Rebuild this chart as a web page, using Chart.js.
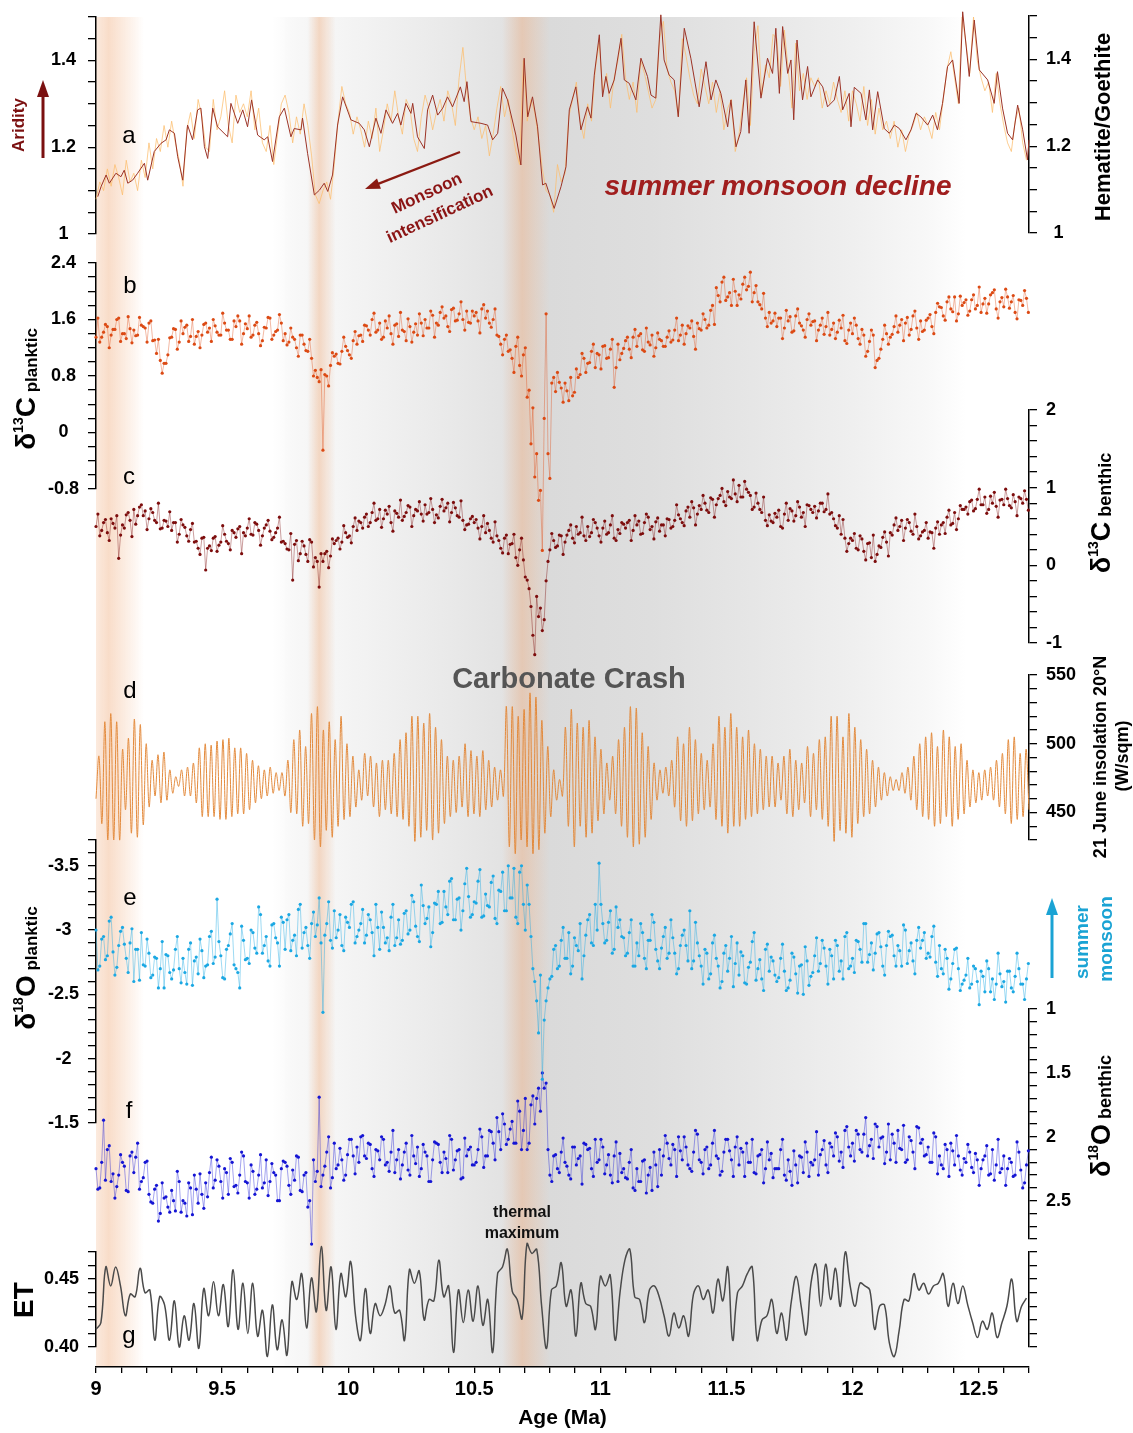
<!DOCTYPE html>
<html>
<head>
<meta charset="utf-8">
<title>Monsoon, carbon and oxygen isotope records 9–12.7 Ma</title>
<script src="https://cdn.jsdelivr.net/npm/chart.js@4"></script>
<style>
  html, body { margin: 0; padding: 0; background: #fff; }
  #wrap { position: relative; width: 1133px; height: 1433px; }
</style>
</head>
<body>
<div id="wrap"><canvas id="chart" width="1133" height="1433"></canvas></div>
<script>
const FONT = "'Liberation Sans', Arial, Helvetica, sans-serif";
Chart.defaults.font.family = FONT;
Chart.defaults.color = '#000';

// ---------- data ----------
// a: hematite/goethite, smoothed line [age Ma, ratio]
const hgSmooth = [
  [9.007,1.086],[9.020,1.109],[9.040,1.136],[9.053,1.117],[9.079,1.140],[9.099,1.132],[9.112,1.147],[9.126,1.117],
  [9.145,1.124],[9.165,1.140],[9.192,1.163],[9.205,1.124],[9.231,1.190],[9.258,1.209],[9.278,1.217],[9.291,1.240],
  [9.311,1.232],[9.324,1.178],[9.344,1.124],[9.363,1.251],[9.383,1.217],[9.403,1.286],[9.416,1.290],[9.430,1.201],
  [9.443,1.174],[9.463,1.290],[9.482,1.247],[9.522,1.224],[9.535,1.301],[9.562,1.255],[9.582,1.286],[9.601,1.247],
  [9.617,1.309],[9.641,1.228],[9.667,1.217],[9.681,1.224],[9.700,1.167],[9.727,1.270],[9.747,1.290],[9.773,1.224],
  [9.786,1.243],[9.813,1.240],[9.819,1.267],[9.839,1.186],[9.866,1.090],[9.886,1.101],[9.905,1.117],[9.919,1.098],
  [9.938,1.136],[9.958,1.251],[9.978,1.316],[10.011,1.263],[10.044,1.255],[10.064,1.240],[10.084,1.201],[10.110,1.267],
  [10.130,1.232],[10.150,1.286],[10.176,1.255],[10.196,1.278],[10.209,1.251],[10.229,1.301],[10.249,1.278],[10.256,1.301],
  [10.275,1.224],[10.302,1.197],[10.315,1.286],[10.335,1.320],[10.355,1.274],[10.375,1.290],[10.394,1.316],[10.414,1.293],
  [10.445,1.339],[10.460,1.305],[10.471,1.351],[10.487,1.259],[10.527,1.255],[10.553,1.251],[10.573,1.217],[10.593,1.232],
  [10.612,1.336],[10.632,1.309],[10.665,1.228],[10.685,1.159],[10.698,1.405],[10.712,1.270],[10.731,1.316],[10.751,1.247],
  [10.771,1.113],[10.784,1.117],[10.817,1.059],[10.844,1.109],[10.864,1.155],[10.877,1.286],[10.903,1.339],[10.923,1.240],
  [10.949,1.293],[10.963,1.267],[10.976,1.366],[10.996,1.459],[11.009,1.316],[11.022,1.363],[11.035,1.324],[11.055,1.355],
  [11.082,1.451],[11.095,1.355],[11.115,1.347],[11.141,1.309],[11.161,1.405],[11.187,1.363],[11.201,1.320],[11.220,1.313],
  [11.240,1.505],[11.253,1.401],[11.273,1.366],[11.293,1.355],[11.309,1.270],[11.333,1.474],[11.359,1.405],[11.392,1.293],
  [11.419,1.397],[11.439,1.309],[11.458,1.355],[11.478,1.324],[11.505,1.247],[11.518,1.309],[11.538,1.201],[11.557,1.236],
  [11.577,1.355],[11.590,1.232],[11.610,1.489],[11.637,1.313],[11.663,1.405],[11.683,1.370],[11.696,1.474],[11.710,1.324],
  [11.723,1.478],[11.743,1.370],[11.756,1.401],[11.767,1.263],[11.780,1.447],[11.802,1.309],[11.822,1.386],[11.835,1.316],
  [11.862,1.355],[11.882,1.339],[11.901,1.293],[11.928,1.309],[11.948,1.363],[11.961,1.286],[11.987,1.324],[11.994,1.247],
  [12.007,1.338],[12.034,1.324],[12.053,1.263],[12.067,1.332],[12.080,1.240],[12.100,1.328],[12.126,1.243],[12.146,1.232],
  [12.166,1.251],[12.186,1.243],[12.212,1.217],[12.232,1.240],[12.252,1.278],[12.271,1.270],[12.298,1.251],[12.318,1.274],
  [12.337,1.240],[12.357,1.301],[12.377,1.386],[12.397,1.401],[12.423,1.301],[12.437,1.512],[12.463,1.363],[12.483,1.493],
  [12.503,1.378],[12.536,1.355],[12.562,1.301],[12.575,1.374],[12.595,1.290],[12.615,1.232],[12.635,1.217],[12.655,1.297],
  [12.675,1.240],[12.694,1.171],[12.700,1.217]
];

// the following series are sampled every 0.015 Ma from 9.0 Ma;
// the "...Mid" arrays hold the samples that fall half-way between them
const GRID_START = 9.0, GRID_STEP = 0.015;

const hgRaw = [
  1.08,1.12,1.10,1.15,1.11,1.16,1.13,1.09,1.17,1.12, 1.14,1.10,1.17,1.13,1.21,1.15,1.22,1.19,1.25,1.20,
  1.26,1.21,1.17,1.11,1.24,1.28,1.22,1.31,1.27,1.20, 1.19,1.31,1.24,1.27,1.33,1.25,1.21,1.32,1.28,1.30,
  1.27,1.33,1.24,1.29,1.21,1.19,1.25,1.16,1.23,1.30, 1.32,1.28,1.21,1.27,1.23,1.30,1.25,1.18,1.09,1.07,
  1.10,1.12,1.08,1.16,1.26,1.34,1.30,1.28,1.23,1.27, 1.24,1.20,1.26,1.22,1.29,1.19,1.24,1.30,1.26,1.33,
  1.27,1.23,1.31,1.29,1.22,1.19,1.27,1.32,1.29,1.24, 1.28,1.31,1.26,1.33,1.30,1.25,1.36,1.43,1.33,1.27,
  1.24,1.27,1.22,1.25,1.18,1.23,1.29,1.34,1.27,1.31, 1.24,1.19,1.16,1.40,1.26,1.31,1.28,1.22,1.15,1.10,
  1.09,1.05,1.16,1.12,1.14,1.27,1.31,1.35,1.26,1.22, 1.30,1.26,1.38,1.44,1.33,1.37,1.29,1.36,1.40,1.46,
  1.36,1.31,1.35,1.28,1.40,1.37,1.33,1.29,1.31,1.45, 1.49,1.38,1.35,1.33,1.27,1.45,1.41,1.36,1.32,1.30,
  1.38,1.34,1.30,1.35,1.28,1.33,1.24,1.29,1.31,1.19, 1.23,1.30,1.36,1.25,1.42,1.48,1.32,1.39,1.36,1.46,
  1.45,1.34,1.47,1.38,1.29,1.44,1.33,1.37,1.31,1.36, 1.34,1.36,1.29,1.33,1.30,1.35,1.31,1.28,1.33,1.26,
  1.33,1.30,1.26,1.34,1.25,1.31,1.23,1.29,1.24,1.26, 1.22,1.26,1.20,1.24,1.19,1.23,1.25,1.28,1.24,1.27,
  1.25,1.22,1.28,1.24,1.31,1.38,1.42,1.36,1.30,1.50, 1.44,1.37,1.50,1.40,1.36,1.33,1.35,1.28,1.37,1.30,
  1.25,1.21,1.19,1.26,1.29,1.21,1.17
];

const d13cPlanktic = [
  1.35,1.28,1.42,1.50,1.38,1.46,1.62,1.40,1.33,1.47, 1.45,1.38,1.52,1.48,1.55,1.30,1.12,1.02,0.98,1.10,
  1.35,1.46,1.28,1.40,1.52,1.36,1.25,1.43,1.38,1.55, 1.48,1.60,1.42,1.38,1.55,1.45,1.32,1.50,1.58,1.40,
  1.47,1.35,1.52,1.40,1.30,1.48,1.62,1.38,1.45,1.55, 1.40,1.28,1.35,1.20,1.38,1.25,1.15,1.05,0.88,0.72,
  -0.25,0.80,0.95,1.08,0.98,1.15,1.22,1.10,1.30,1.25, 1.38,1.52,1.45,1.60,1.42,1.55,1.35,1.48,1.40,1.52,
  1.36,1.45,1.30,1.50,1.42,1.38,1.55,1.60,1.48,1.66, 1.55,1.70,1.62,1.50,1.74,1.58,1.68,1.60,1.72,1.55,
  1.65,1.58,1.75,1.62,1.55,1.60,1.38,1.25,1.32,1.15, 1.05,1.22,0.95,1.10,0.50,-0.16,-0.63,-0.96,-1.67,1.68,
  -0.65,0.78,0.85,0.63,0.70,0.45,0.52,0.90,0.82,1.05, 0.98,1.15,0.92,1.10,1.22,1.05,1.18,0.64,1.25,1.12,
  1.30,1.18,1.35,1.22,1.40,1.15,1.28,1.38,1.20,1.32, 1.22,1.35,1.28,1.45,1.30,1.52,1.40,1.48,1.36,1.55,
  1.45,1.60,1.52,1.80,2.05,1.85,2.20,1.92,1.80,2.00, 1.95,2.10,2.02,2.27,1.98,1.85,1.75,1.62,1.70,1.58,
  1.50,1.62,1.48,1.58,1.42,1.65,1.55,1.45,1.60,1.52, 1.58,1.45,1.62,1.50,1.38,1.55,1.42,1.48,1.30,1.45,
  1.40,1.52,1.25,1.38,1.15,1.45,0.92,1.05,1.32,1.40, 1.35,1.50,1.42,1.60,1.55,1.38,1.65,1.48,1.58,1.45,
  1.62,1.50,1.70,1.78,1.65,1.85,1.75,1.92,1.68,1.80, 1.88,1.72,1.95,1.80,1.70,1.90,1.82,1.98,1.75,1.85,
  1.78,1.92,1.85,1.70,1.88,1.80,1.90
];
const d13cPlankticMid = [
  1.62,1.35,1.53,1.20,1.46,1.60,1.29,1.40,1.64,1.27, 1.37,1.63,1.50,1.28,1.58,1.31,1.32,0.84,0.98,1.34,
  1.47,1.18,1.58,1.49,1.29,1.60,1.36,1.20,1.53,1.42, 1.29,1.51,1.38,1.69,1.45,1.32,1.58,1.65,1.25,1.54,
  1.65,1.38,1.56,1.23,1.49,1.63,1.32,1.43,1.67,1.30, 1.24,1.48,1.32,1.08,1.38,1.16,1.32,0.80,0.78,0.89,
  0.82,0.66,1.13,1.11,0.97,1.35,1.16,1.05,1.43,1.37, 1.29,1.51,1.38,1.69,1.45,1.32,1.58,1.65,1.25,1.54,
  1.70,1.43,1.61,1.28,1.54,1.68,1.37,1.48,1.72,1.35, 1.52,1.78,1.65,1.43,1.76,1.59,1.85,1.45,1.56,1.72,
  1.70,1.41,1.81,1.72,1.49,1.75,1.36,1.10,1.38,1.17, 0.85,1.35,0.80,1.20,0.60,0.35,-0.30,-0.82,0.20,-0.30,
  0.70,0.58,0.71,0.43,0.59,0.78,0.57,0.78,1.12,0.85, 0.99,1.25,1.12,0.90,1.23,1.06,1.32,0.92,1.03,1.19,
  1.35,1.06,1.46,1.37,1.17,1.48,1.24,1.08,1.41,1.30, 1.22,1.44,1.31,1.62,1.38,1.25,1.51,1.58,1.18,1.47,
  1.68,1.48,1.73,1.53,1.94,2.13,1.87,1.98,2.17,1.80, 1.89,2.20,2.07,1.85,2.08,1.81,1.97,1.50,1.55,1.69,
  1.62,1.33,1.73,1.64,1.44,1.75,1.51,1.35,1.68,1.57, 1.30,1.52,1.39,1.70,1.46,1.33,1.59,1.66,1.26,1.55,
  1.62,1.33,1.46,1.08,1.29,1.38,1.02,1.18,1.52,1.25, 1.39,1.65,1.52,1.30,1.63,1.46,1.72,1.32,1.43,1.59,
  1.67,1.40,1.83,1.77,1.59,1.92,1.71,1.58,1.93,1.84, 1.66,1.88,1.75,2.06,1.82,1.69,1.95,2.02,1.62,1.91,
  2.03,1.76,1.94,1.61,1.87,2.01,1.70
];

const d13cBenthic = [
  0.50,0.38,0.55,0.42,0.60,0.48,0.09,0.52,0.65,0.58, 0.72,0.64,0.78,0.70,0.60,0.68,0.55,0.47,0.58,0.50,
  0.45,0.55,0.40,0.52,0.38,0.46,0.30,0.22,0.35,-0.06, 0.25,0.35,0.18,0.30,0.40,0.28,0.45,0.36,0.50,0.42,
  0.48,0.40,0.55,0.45,0.38,0.52,0.44,0.36,0.48,0.30, 0.28,0.20,-0.19,0.32,0.15,0.25,0.05,0.30,0.10,-0.28,
  0.05,0.18,0.12,0.28,0.35,0.30,0.42,0.38,0.50,0.45, 0.55,0.62,0.50,0.68,0.58,0.72,0.60,0.66,0.55,0.70,
  0.62,0.58,0.68,0.75,0.64,0.70,0.66,0.78,0.68,0.72, 0.65,0.76,0.70,0.80,0.68,0.74,0.62,0.58,0.52,0.60,
  0.55,0.48,0.50,0.42,0.45,0.30,0.38,0.22,0.35,0.15, 0.28,0.10,0.20,0.07,-0.19,-0.53,-1.15,-0.66,-0.84,-0.20,
  0.20,0.32,0.25,0.38,0.30,0.45,0.35,0.50,0.42,0.38, 0.50,0.42,0.55,0.38,0.48,0.40,0.52,0.35,0.46,0.55,
  0.48,0.58,0.45,0.52,0.40,0.55,0.62,0.50,0.56,0.44, 0.52,0.60,0.48,0.58,0.65,0.55,0.70,0.62,0.74,0.66,
  0.72,0.80,0.68,0.85,0.78,0.90,0.82,0.95,0.86,0.92, 1.03,0.88,0.98,0.90,0.75,0.80,0.68,0.58,0.65,0.55,
  0.62,0.50,0.66,0.58,0.70,0.64,0.75,0.68,0.78,0.72, 0.76,0.70,0.80,0.72,0.66,0.60,0.48,0.40,0.35,0.28,
  0.32,0.22,0.38,0.18,0.28,0.10,0.05,0.25,0.36,0.30, 0.42,0.52,0.45,0.58,0.48,0.55,0.40,0.50,0.38,0.45,
  0.35,0.42,0.48,0.40,0.55,0.62,0.52,0.68,0.60,0.72, 0.75,0.82,0.70,0.85,0.78,0.88,0.72,0.80,0.76,0.84,
  0.78,0.86,0.74,0.82,0.88,0.80,0.85
];
const d13cBenthicMid = [
  0.66,0.45,0.59,0.32,0.54,0.64,0.39,0.48,0.68,0.37, 0.53,0.75,0.64,0.46,0.73,0.58,0.80,0.48,0.57,0.69,
  0.55,0.30,0.59,0.49,0.31,0.54,0.31,0.14,0.36,0.22, 0.19,0.37,0.26,0.51,0.31,0.20,0.42,0.47,0.15,0.38,
  0.60,0.39,0.53,0.26,0.48,0.58,0.33,0.42,0.62,0.31, 0.21,0.41,0.27,0.06,0.31,0.14,0.33,-0.02,0.05,0.15,
  0.15,-0.03,0.34,0.32,0.21,0.51,0.36,0.29,0.61,0.57, 0.48,0.66,0.55,0.80,0.60,0.49,0.71,0.76,0.44,0.67,
  0.84,0.63,0.77,0.50,0.72,0.82,0.57,0.66,0.86,0.55, 0.61,0.85,0.74,0.56,0.81,0.64,0.83,0.46,0.53,0.63,
  0.59,0.34,0.64,0.54,0.35,0.56,0.32,0.16,0.39,0.27, 0.40,0.00,0.35,-0.15,-0.30,-0.90,-0.40,-0.55,-0.70,0.05,
  0.41,0.23,0.39,0.14,0.39,0.52,0.29,0.40,0.62,0.32, 0.37,0.59,0.48,0.30,0.57,0.42,0.64,0.32,0.41,0.53,
  0.55,0.32,0.64,0.57,0.41,0.66,0.46,0.34,0.61,0.52, 0.38,0.59,0.50,0.78,0.60,0.51,0.75,0.82,0.52,0.77,
  0.90,0.71,0.87,0.62,0.86,0.99,0.77,0.88,1.10,0.82, 0.88,1.08,0.94,0.72,0.93,0.72,0.88,0.51,0.57,0.67,
  0.71,0.48,0.80,0.73,0.57,0.82,0.62,0.50,0.77,0.68, 0.61,0.80,0.69,0.92,0.68,0.51,0.64,0.59,0.18,0.35,
  0.41,0.20,0.34,0.07,0.29,0.39,0.14,0.23,0.43,0.12, 0.39,0.61,0.50,0.32,0.59,0.44,0.66,0.34,0.43,0.55,
  0.43,0.22,0.56,0.52,0.41,0.71,0.54,0.46,0.77,0.72, 0.66,0.84,0.73,0.98,0.78,0.67,0.89,0.94,0.62,0.85,
  0.98,0.77,0.91,0.64,0.86,0.96,0.71
];

const d18oPlanktic = [
  -3.00,-2.72,-2.95,-2.80,-3.10,-2.65,-2.88,-3.02,-2.78,-2.90, -2.60,-2.85,-2.98,-2.72,-2.82,-2.65,-2.78,-2.70,-2.55,-2.80,
  -2.62,-2.85,-2.70,-2.78,-2.58,-2.90,-2.76,-2.66,-2.84,-2.72, -2.95,-2.74,-3.24,-2.80,-2.62,-2.88,-3.05,-2.70,-2.55,-2.92,
  -2.78,-3.00,-2.86,-3.18,-2.82,-2.95,-2.72,-3.05,-2.90,-3.10, -2.85,-3.12,-2.92,-2.80,-3.20,-2.98,-2.88,-3.05,-2.95,-3.25,
  -2.36,-3.05,-2.92,-3.15,-3.00,-2.88,-3.10,-3.02,-3.22,-2.95, -3.05,-2.90,-3.12,-2.98,-3.20,-2.85,-3.02,-2.94,-3.10,-2.88,
  -3.08,-2.92,-3.15,-3.00,-3.22,-2.95,-3.35,-3.05,-3.18,-2.98, -3.20,-3.05,-3.30,-3.12,-3.40,-3.08,-3.25,-3.15,-3.48,-3.10,
  -3.22,-3.38,-3.10,-3.28,-3.18,-3.42,-3.05,-3.30,-3.15,-3.50, -3.25,-3.10,-3.45,-3.20,-3.35,-2.95,-2.60,-2.20,-1.84,-2.45,
  -2.62,-2.85,-2.70,-2.92,-2.78,-2.98,-2.72,-2.88,-3.05,-2.80, -3.08,-2.90,-3.20,-3.52,-3.05,-2.92,-3.15,-2.85,-3.02,-2.95,
  -2.80,-2.98,-2.72,-2.90,-3.05,-2.78,-2.92,-3.12,-2.85,-2.70, -2.95,-2.78,-3.08,-2.82,-2.70,-2.96,-2.88,-3.15,-2.76,-2.90,
  -2.72,-2.85,-2.62,-2.90,-2.78,-2.55,-2.82,-2.68,-2.95,-2.74, -2.65,-2.80,-2.58,-2.75,-2.98,-2.70,-2.62,-2.85,-2.68,-2.76,
  -2.60,-2.78,-2.68,-2.55,-2.82,-2.66,-2.72,-2.50,-2.76,-2.64, -2.80,-2.68,-2.92,-2.72,-2.85,-2.62,-2.88,-2.76,-2.95,-2.70,
  -2.78,-2.92,-2.85,-3.05,-2.75,-2.90,-2.82,-2.98,-2.72,-2.88, -2.95,-2.80,-2.88,-2.72,-3.00,-2.84,-2.76,-2.92,-2.86,-2.98,
  -2.82,-2.95,-2.75,-2.88,-2.66,-2.78,-2.62,-2.85,-2.70,-2.58, -2.65,-2.55,-2.72,-2.60,-2.68,-2.52,-2.70,-2.62,-2.58,-2.66,
  -2.60,-2.68,-2.55,-2.64,-2.70,-2.58,-2.62
];
const d18oPlankticMid = [
  -2.69,-2.93,-2.77,-3.07,-2.83,-2.71,-2.99,-2.89,-2.67,-3.01, -2.85,-2.61,-2.73,-2.93,-2.63,-2.79,-2.55,-2.91,-2.81,-2.67,
  -2.69,-2.95,-2.59,-2.67,-2.85,-2.57,-2.79,-2.93,-2.63,-2.73, -2.99,-2.79,-2.91,-2.63,-2.85,-2.97,-2.73,-2.67,-3.03,-2.77,
  -2.74,-2.98,-2.82,-3.12,-2.88,-2.76,-3.04,-2.94,-2.72,-3.06, -3.08,-2.84,-2.96,-3.16,-2.86,-3.02,-2.78,-3.14,-3.04,-2.90,
  -2.96,-3.22,-2.86,-2.94,-3.12,-2.84,-3.06,-3.20,-2.90,-3.00, -3.16,-2.96,-3.08,-2.80,-3.02,-3.14,-2.90,-2.84,-3.20,-2.94,
  -2.89,-3.13,-2.97,-3.27,-3.03,-2.91,-3.19,-3.09,-2.87,-3.21, -3.30,-3.06,-3.18,-3.38,-3.08,-3.24,-3.00,-3.36,-3.26,-3.12,
  -3.21,-3.47,-3.11,-3.19,-3.37,-3.09,-3.31,-3.45,-3.15,-3.25, -3.48,-3.05,-3.50,-3.00,-3.20,-2.70,-2.45,-2.65,-2.30,-2.55,
  -2.64,-2.88,-2.72,-3.02,-2.78,-2.66,-2.94,-2.84,-2.62,-2.96, -3.12,-2.88,-3.00,-3.20,-2.90,-3.06,-2.82,-3.18,-3.08,-2.94,
  -2.82,-3.08,-2.72,-2.80,-2.98,-2.70,-2.92,-3.06,-2.76,-2.86, -3.02,-2.82,-2.94,-2.66,-2.88,-3.00,-2.76,-2.70,-3.06,-2.80,
  -2.58,-2.82,-2.66,-2.96,-2.72,-2.60,-2.88,-2.78,-2.56,-2.90, -2.83,-2.59,-2.71,-2.91,-2.61,-2.77,-2.53,-2.89,-2.79,-2.65,
  -2.63,-2.89,-2.53,-2.61,-2.79,-2.51,-2.73,-2.87,-2.57,-2.67, -2.94,-2.74,-2.86,-2.58,-2.80,-2.92,-2.68,-2.62,-2.98,-2.72,
  -2.67,-2.91,-2.75,-3.05,-2.81,-2.69,-2.97,-2.87,-2.65,-2.99, -2.96,-2.72,-2.84,-3.04,-2.74,-2.90,-2.66,-3.02,-2.92,-2.78,
  -2.79,-3.03,-2.64,-2.70,-2.85,-2.54,-2.74,-2.86,-2.53,-2.61, -2.78,-2.58,-2.70,-2.42,-2.64,-2.76,-2.52,-2.46,-2.82,-2.56,
  -2.44,-2.68,-2.52,-2.82,-2.58,-2.46,-2.74
];

const d18oBenthic = [
  2.25,2.40,1.87,2.10,2.35,2.48,2.30,2.20,2.42,2.15, 2.28,2.05,2.35,2.20,2.45,2.52,2.38,2.60,2.48,2.55,
  2.42,2.58,2.35,2.50,2.62,2.40,2.30,2.52,2.45,2.36, 2.28,2.40,2.18,2.35,2.25,2.45,2.20,2.38,2.30,2.15,
  2.36,2.22,2.45,2.30,2.40,2.18,2.35,2.28,2.50,2.25, 2.20,2.38,2.26,2.15,2.42,2.30,2.55,2.84,2.35,1.69,
  2.30,2.12,2.40,2.05,2.22,2.18,2.30,2.02,2.15,2.08, 2.00,2.15,2.05,2.25,2.10,2.18,2.02,2.20,2.12,2.28,
  2.10,2.22,2.05,2.30,2.15,2.08,2.25,2.12,2.35,2.18, 2.05,2.20,2.12,2.28,2.02,2.18,2.10,2.32,2.15,2.08,
  2.22,2.10,2.00,2.15,1.95,2.05,1.85,2.10,1.90,2.02, 1.88,2.05,1.80,1.95,2.10,1.75,1.90,1.62,1.50,1.58,
  2.30,2.15,2.25,2.12,2.20,2.30,2.08,2.22,2.15,2.05, 2.10,2.25,2.02,2.18,2.08,2.22,2.30,2.15,2.35,2.28,
  2.32,2.20,2.40,2.25,2.35,2.18,2.30,2.42,2.22,2.10, 2.15,2.05,2.22,2.10,2.00,2.18,2.08,2.25,2.12,1.98,
  2.20,2.10,2.25,2.05,2.15,2.30,2.12,2.02,2.18,2.08, 2.22,2.12,2.05,2.20,2.28,2.15,2.10,2.25,2.18,2.32,
  2.25,2.10,2.30,2.18,2.38,2.22,2.15,2.28,2.12,2.20, 2.18,2.30,2.10,2.22,2.05,2.15,2.00,2.12,1.95,2.08,
  2.05,1.95,2.10,1.98,2.15,2.02,1.90,2.08,2.00,2.12, 2.18,2.05,1.95,2.10,2.20,2.00,2.12,1.92,2.05,2.15,
  2.08,2.20,2.00,2.15,2.25,2.10,2.05,2.22,2.15,2.30, 2.20,2.12,2.28,2.18,2.25,2.15,2.30,2.10,2.22,2.28,
  2.15,2.25,2.20,2.30,2.12,2.40,2.22
];
const d18oBenthicMid = [
  2.41,2.20,2.34,2.07,2.29,2.39,2.14,2.23,2.43,2.12, 2.16,2.41,2.32,2.19,2.51,2.41,2.66,2.36,2.47,2.59,
  2.50,2.27,2.59,2.52,2.36,2.61,2.41,2.29,2.56,2.47, 2.16,2.34,2.23,2.48,2.28,2.17,2.39,2.44,2.12,2.35,
  2.48,2.27,2.41,2.14,2.36,2.46,2.21,2.30,2.50,2.19, 2.23,2.45,2.34,2.16,2.43,2.28,2.50,2.18,2.27,2.39,
  2.23,2.00,2.32,2.25,2.09,2.34,2.14,2.02,2.29,2.20, 1.99,2.17,2.06,2.31,2.11,2.00,2.22,2.27,1.95,2.18,
  2.33,2.12,2.26,1.99,2.21,2.31,2.06,2.15,2.35,2.04, 2.06,2.28,2.17,1.99,2.26,2.11,2.33,2.01,2.10,2.22,
  2.20,1.94,2.24,2.15,1.96,2.18,1.96,1.82,2.06,1.94, 2.05,1.72,2.10,1.70,2.05,1.68,1.70,1.80,1.62,2.10,
  2.35,2.14,2.28,2.01,2.23,2.33,2.08,2.17,2.37,2.06, 2.09,2.31,2.20,2.02,2.29,2.14,2.36,2.04,2.13,2.25,
  2.33,2.10,2.42,2.35,2.19,2.44,2.24,2.12,2.39,2.30, 1.99,2.17,2.06,2.31,2.11,2.00,2.22,2.27,1.95,2.18,
  2.29,2.08,2.22,1.95,2.17,2.27,2.02,2.11,2.31,2.00, 2.09,2.31,2.20,2.02,2.29,2.14,2.36,2.04,2.13,2.25,
  2.25,2.02,2.34,2.27,2.11,2.36,2.16,2.04,2.31,2.22, 1.96,2.14,2.03,2.28,2.08,1.97,2.19,2.24,1.92,2.15,
  2.19,1.98,2.12,1.85,2.07,2.17,1.92,2.01,2.21,1.90, 1.98,2.20,2.09,1.91,2.18,2.03,2.25,1.93,2.02,2.14,
  2.20,1.97,2.29,2.22,2.06,2.31,2.11,1.99,2.26,2.17, 2.06,2.24,2.13,2.38,2.18,2.07,2.29,2.34,2.02,2.25,
  2.38,2.17,2.31,2.04,2.26,2.36,2.11
];

// d: 21 June insolation 20°N (W/m2), peak/trough per precession half-cycle, 9.0 -> 12.7 Ma
const insolation = [
  460,491,442,516,430,522,430,516,430,496,452,504,435,518,432,514,441,500,454,
  488,462,492,457,494,459,481,464,476,469,481,462,483,462,486,457,
  497,447,500,447,499,447,502,445,503,445,504,447,497,449,497,449,493,452,488,457,484,460,
  481,462,483,464,479,466,479,462,488,450,
  503,449,510,440,498,442,522,430,527,425,510,437,516,432,503,440,520,445,500,447,491,454,481,459,
  493,462,491,454,486,447,488,452,488,449,493,447,503,445,508,440,
  520,429,520,432,515,437,522,430,512,435,503,442,491,447,488,450,
  491,454,500,447,495,449,491,447,495,452,488,454,483,459,481,462,
  527,425,527,420,520,430,525,425,537,420,534,423,517,435,498,447,481,459,474,462,512,440,525,425,
  515,440,512,432,517,435,505,444,496,449,
  486,459,491,449,503,440,
  512,432,527,425,526,427,508,432,498,445,
  486,459,481,464,483,462,
  488,454,505,444,500,440,512,444,503,449,493,452,488,454,
  500,445,520,440,512,435,522,440,512,440,505,445,510,447,500,449,496,452,491,454,
  491,454,486,459,491,449,496,447,488,452,486,457,498,447,493,452,503,445,
  505,440,520,429,520,437,505,435,522,432,512,442,503,447,496,449,
  488,454,483,459,479,462,476,466,474,466,479,464,483,459,491,452,
  500,447,505,445,508,440,498,442,510,447,505,440,498,445,500,449,488,454,481,457,479,459,
  481,462,483,459,488,454,493,449,
  503,442,505,445,493,447,496,452
];

// g: ET, evenly spaced 9.0 -> 12.69 Ma
const etCurve = [
  0.413,0.418,0.459,0.445,0.459,0.445,0.423,0.439,0.437,0.458, 0.440,0.442,0.405,0.437,0.431,0.405,0.434,0.400,0.423,0.405,
  0.432,0.399,0.443,0.423,0.448,0.423,0.446,0.415,0.457,0.413, 0.447,0.410,0.447,0.408,0.427,0.393,0.431,0.398,0.420,0.394,
  0.448,0.435,0.454,0.414,0.451,0.426,0.474,0.427,0.459,0.413, 0.454,0.437,0.463,0.423,0.405,0.443,0.410,0.432,0.423,0.431,
  0.445,0.425,0.427,0.405,0.457,0.447,0.456,0.420,0.435,0.434, 0.464,0.437,0.445,0.396,0.442,0.418,0.442,0.419,0.445,0.416,
  0.435,0.396,0.454,0.459,0.472,0.441,0.435,0.421,0.476,0.469, 0.472,0.430,0.399,0.442,0.445,0.462,0.430,0.442,0.408,0.447,
  0.432,0.430,0.413,0.452,0.445,0.453,0.405,0.440,0.464,0.472, 0.437,0.435,0.418,0.442,0.445,0.437,0.423,0.408,0.425,0.414,
  0.423,0.408,0.439,0.445,0.435,0.442,0.425,0.450,0.434,0.459, 0.405,0.440,0.445,0.454,0.459,0.405,0.420,0.423,0.435,0.410,
  0.425,0.405,0.434,0.452,0.430,0.409,0.447,0.461,0.430,0.461, 0.435,0.458,0.430,0.470,0.445,0.430,0.447,0.445,0.442,0.413,
  0.430,0.431,0.403,0.393,0.412,0.435,0.434,0.454,0.442,0.447, 0.439,0.445,0.447,0.454,0.430,0.447,0.432,0.445,0.431,0.418,
  0.407,0.419,0.413,0.425,0.407,0.418,0.430,0.450,0.419,0.430, 0.436
];

// background: warm intervals [start, peak, end] and grey shading stops [age, colour]
const warmBands = [[9.0, 9.05, 9.19], [9.84, 9.885, 9.95], [10.61, 10.69, 10.80]];
const greyStops = [[9.7,'rgba(230,230,230,0)'],[9.95,'#f5f5f5'],[10.3,'#ececec'],[10.6,'#e3e3e3'],[10.8,'#dadada'],
                   [11.2,'#dedede'],[11.6,'#e6e6e6'],[12.0,'#efefef'],[12.3,'#f8f8f8'],[12.45,'#ffffff']];

// ---------- helpers ----------
const onGrid = vals => vals.map((y, i) => ({ x: GRID_START + i * GRID_STEP, y }));
const withMid = (vals, mid) => {
  const pts = [];
  vals.forEach((y, i) => {
    pts.push({ x: GRID_START + i * GRID_STEP, y });
    if (i < mid.length) pts.push({ x: GRID_START + (i + 0.5) * GRID_STEP, y: mid[i] });
  });
  return pts;
};
const spread = (vals, a0, a1) => vals.map((y, i) => ({ x: a0 + (a1 - a0) * i / (vals.length - 1), y }));
const isMult = (v, m) => Math.abs(v / m - Math.round(v / m)) < 1e-6;
const r1 = v => String(Math.round(v * 10) / 10);
const font = (size, style = '') => `${style} bold ${size}px ${FONT}`;

const LEFT_W = 96, RIGHT_W = 104;

function valueAxis(position, weight, size, o) {
  return {
    type: 'linear', position, weight, stack: 'col', stackWeight: size,
    min: o.min, max: o.max, reverse: !!o.reverse,
    border: { color: '#000', width: 1.5 },
    grid: { drawOnChartArea: false, tickLength: 8, color: '#000', lineWidth: 1.3 },
    ticks: {
      stepSize: o.step, autoSkip: false, maxTicksLimit: 1000, color: '#000',
      font: { size: 18, weight: 'bold' }, padding: o.pad, crossAlign: o.align || 'near',
      callback: v => (o.every && isMult(v, o.every)) ? o.fmt(v) : ''
    },
    afterFit: s => {
      s.width = position === 'left' ? LEFT_W : RIGHT_W;
      s.paddingTop = 0; s.paddingBottom = 0;
    }
  };
}
const spacer = (position, weight, size) => ({ type: 'linear', display: false, position, weight, stack: 'col', stackWeight: size });

function rich(ctx, parts, cx, cy, angle) {
  ctx.save();
  ctx.translate(cx, cy);
  ctx.rotate(angle);
  ctx.textAlign = 'left';
  ctx.textBaseline = 'alphabetic';
  let total = 0;
  parts.forEach(p => { ctx.font = p.f; p.w = ctx.measureText(p.t).width; total += p.w; });
  let x = -total / 2;
  parts.forEach(p => { ctx.font = p.f; ctx.fillStyle = p.c || '#000'; ctx.fillText(p.t, x, p.dy || 0); x += p.w; });
  ctx.restore();
}

function arrow(ctx, x1, y1, x2, y2, color, lw, hl, hw) {
  const a = Math.atan2(y2 - y1, x2 - x1);
  ctx.save();
  ctx.strokeStyle = color; ctx.fillStyle = color; ctx.lineWidth = lw;
  ctx.beginPath();
  ctx.moveTo(x1, y1);
  ctx.lineTo(x2 - Math.cos(a) * hl * 0.8, y2 - Math.sin(a) * hl * 0.8);
  ctx.stroke();
  ctx.translate(x2, y2); ctx.rotate(a);
  ctx.beginPath();
  ctx.moveTo(0, 0); ctx.lineTo(-hl, -hw / 2); ctx.lineTo(-hl, hw / 2); ctx.closePath();
  ctx.fill();
  ctx.restore();
}

const background = {
  id: 'background',
  beforeDraw(chart) {
    const { ctx, chartArea, scales } = chart;
    const X = v => scales.x.getPixelForValue(v);
    const top = scales.ya.top, bottom = chartArea.bottom;
    const g0 = greyStops[0][0], g1 = greyStops[greyStops.length - 1][0];
    const grad = ctx.createLinearGradient(X(g0), 0, X(g1), 0);
    greyStops.forEach(([age, col]) => grad.addColorStop((age - g0) / (g1 - g0), col));
    ctx.save();
    ctx.fillStyle = grad;
    ctx.fillRect(X(g0), top, X(g1) - X(g0), bottom - top);
    warmBands.forEach(([a0, ap, a1], i) => {
      const x0 = X(a0), x1 = X(a1);
      const bg = ctx.createLinearGradient(x0, 0, x1, 0);
      const pk = (ap - a0) / (a1 - a0);
      bg.addColorStop(0, i === 0 ? 'rgba(238,160,105,0.22)' : 'rgba(238,160,105,0)');
      bg.addColorStop(pk, 'rgba(238,160,105,0.36)');
      bg.addColorStop(1, 'rgba(238,160,105,0)');
      ctx.fillStyle = bg;
      ctx.fillRect(x0, top, x1 - x0, bottom - top);
    });
    ctx.restore();
  }
};

const annotations = {
  id: 'annotations',
  afterDraw(chart) {
    const ctx = chart.ctx;
    const up = -Math.PI / 2;
    // axis titles
    rich(ctx, [{ t: 'Hematite/Goethite', f: font(22) }], 1110, 127, up);
    rich(ctx, [{ t: 'δ', f: font(28) }, { t: '13', f: font(14), dy: -12 }, { t: 'C', f: font(28) }, { t: ' planktic', f: font(17), dy: 2 }], 35, 389, up);
    rich(ctx, [{ t: 'δ', f: font(27) }, { t: '13', f: font(14), dy: -12 }, { t: 'C', f: font(27) }, { t: ' benthic', f: font(18), dy: 1 }], 1110, 513, up);
    rich(ctx, [{ t: '21 June insolation 20°N', f: font(18) }], 1106, 757, up);
    rich(ctx, [{ t: '(W/sqm)', f: font(18) }], 1128, 756, up);
    rich(ctx, [{ t: 'δ', f: font(28) }, { t: '18', f: font(14), dy: -12 }, { t: 'O', f: font(28) }, { t: ' planktic', f: font(17), dy: 2 }], 35, 968, up);
    rich(ctx, [{ t: 'δ', f: font(27) }, { t: '18', f: font(14), dy: -12 }, { t: 'O', f: font(27) }, { t: ' benthic', f: font(18), dy: 1 }], 1110, 1116, up);
    rich(ctx, [{ t: 'ET', f: font(28) }], 33, 1300, up);
    // aridity marker
    rich(ctx, [{ t: 'Aridity', f: font(17), c: '#7b1010' }], 24, 125, up);
    arrow(ctx, 43, 158, 43, 80, '#7b1010', 3, 17, 12);
    // summer monsoon marker
    rich(ctx, [{ t: 'summer', f: font(19), c: '#1aa3d4' }], 1088, 942, up);
    rich(ctx, [{ t: 'monsoon', f: font(19), c: '#1aa3d4' }], 1112, 939, up);
    arrow(ctx, 1052, 978, 1052, 898, '#1aa3d4', 3, 17, 12);
    // monsoon intensification
    arrow(ctx, 460, 152, 365, 189, '#8b1a12', 2.2, 15, 11);
    const tilt = -25 * Math.PI / 180;
    rich(ctx, [{ t: 'Monsoon', f: font(17), c: '#8b1414' }], 429, 198, tilt);
    rich(ctx, [{ t: 'intensification', f: font(17), c: '#8b1414' }], 442, 219, tilt);
    // free text
    ctx.save();
    ctx.textAlign = 'center';
    ctx.textBaseline = 'alphabetic';
    ctx.fillStyle = '#a01e1e';
    ctx.font = font(28, 'italic');
    ctx.fillText('summer monsoon decline', 778, 195);
    ctx.fillStyle = '#555';
    ctx.font = font(29);
    ctx.fillText('Carbonate Crash', 569, 688);
    ctx.fillStyle = '#111';
    ctx.font = font(16);
    ctx.fillText('thermal', 522, 1217);
    ctx.fillText('maximum', 522, 1238);
    // panel letters
    ctx.font = `24px ${FONT}`;
    ctx.fillStyle = '#000';
    [['a', 129, 143], ['b', 130, 293], ['c', 129, 484], ['d', 130, 698], ['e', 130, 905], ['f', 129, 1118], ['g', 129, 1343]]
      .forEach(([t, x, y]) => ctx.fillText(t, x, y));
    ctx.restore();
  }
};

const noisy = (label, data, mid, axis, line, dot) => ({
  label, data: withMid(data, mid), yAxisID: axis, borderColor: line, borderWidth: 0.8,
  pointRadius: 1.6, pointBackgroundColor: dot, pointBorderWidth: 0, pointHoverRadius: 0, tension: 0, clip: false
});

new Chart(document.querySelector('#chart'), {
  type: 'line',
  data: {
    datasets: [
      { label: 'Hematite/Goethite (smoothed)', data: hgSmooth.map(([x, y]) => ({ x, y })), yAxisID: 'ya',
        borderColor: '#9c3326', borderWidth: 1, pointRadius: 0, order: 0, clip: false },
      { label: 'Hematite/Goethite', data: onGrid(hgRaw), yAxisID: 'ya',
        borderColor: 'rgba(252,190,110,0.75)', borderWidth: 1, pointRadius: 0, order: 1, clip: false },
      noisy('δ13C planktic', d13cPlanktic, d13cPlankticMid, 'yb', 'rgba(226,80,28,0.5)', '#dc4a14'),
      noisy('δ13C benthic', d13cBenthic, d13cBenthicMid, 'yc', 'rgba(125,12,12,0.5)', '#7d0d0d'),
      { label: '21 June insolation 20°N', data: spread(insolation, 9.0, 12.7), yAxisID: 'yd',
        borderColor: '#e38a3c', borderWidth: 1, pointRadius: 0, tension: 0.35, clip: false },
      noisy('δ18O planktic', d18oPlanktic, d18oPlankticMid, 'ye', 'rgba(30,170,228,0.55)', '#1ba8e3'),
      noisy('δ18O benthic', d18oBenthic, d18oBenthicMid, 'yf', 'rgba(25,25,215,0.5)', '#1515d4'),
      { label: 'ET', data: spread(etCurve, 9.0, 12.69), yAxisID: 'yg',
        borderColor: '#4a4a4a', borderWidth: 1.5, pointRadius: 0, tension: 0.4, clip: false }
    ]
  },
  options: {
    responsive: false,
    animation: false,
    events: [],
    layout: { padding: { top: 10, left: 0, right: 0, bottom: 0 } },
    plugins: { legend: { display: false }, tooltip: { enabled: false } },
    scales: {
      x: {
        type: 'linear', position: 'bottom', min: 9, max: 12.7,
        border: { color: '#000', width: 1.5 },
        grid: { drawOnChartArea: false, tickLength: 6, color: '#000', lineWidth: 1.3 },
        ticks: { stepSize: 0.1, autoSkip: false, maxTicksLimit: 1000, maxRotation: 0, padding: 4,
                 font: { size: 20, weight: 'bold' }, color: '#000',
                 callback: v => isMult(v, 0.5) ? r1(v) : '' },
        title: { display: true, text: 'Age (Ma)', font: { size: 21, weight: 'bold' }, color: '#000', padding: { top: 2, bottom: 2 } },
        afterFit: s => { s.height = 66; s.paddingLeft = 0; s.paddingRight = 0; }
      },
      sl0: spacer('left', 90, 7),
      ya: valueAxis('left', 80, 217, { min: 1, max: 1.5, step: 0.05, every: 0.2, fmt: r1, pad: 12, align: 'center' }),
      sl1: spacer('left', 70, 29),
      yb: valueAxis('left', 60, 226, { min: -0.8, max: 2.4, step: 0.2, every: 0.8, fmt: r1, pad: 9, align: 'center' }),
      sl2: spacer('left', 50, 351),
      ye: valueAxis('left', 40, 283, { min: -3.7, max: -1.5, step: 0.1, every: 0.5, fmt: r1, pad: 9, align: 'center', reverse: true }),
      sl3: spacer('left', 30, 129),
      yg: valueAxis('left', 20, 95, { min: 0.40, max: 0.47, step: 0.01, every: 0.05, fmt: v => v.toFixed(2), pad: 9, align: 'center' }),
      sl4: spacer('left', 10, 20),
      sr0: spacer('right', 10, 6),
      yh: valueAxis('right', 20, 217, { min: 1, max: 1.5, step: 0.05, every: 0.2, fmt: r1, pad: 9, align: 'center' }),
      sr1: spacer('right', 30, 177),
      yc: valueAxis('right', 40, 233, { min: -1, max: 2, step: 0.2, every: 1, fmt: r1, pad: 9 }),
      sr2: spacer('right', 50, 32),
      yd: valueAxis('right', 60, 165, { min: 430, max: 550, step: 10, every: 50, fmt: v => String(Math.round(v)), pad: 9 }),
      sr3: spacer('right', 70, 169),
      yf: valueAxis('right', 80, 230, { min: 1, max: 2.8, step: 0.1, every: 0.5, fmt: r1, pad: 9, reverse: true }),
      sr4: spacer('right', 90, 13),
      ygr: valueAxis('right', 100, 95, { min: 0.40, max: 0.47, step: 0.01, every: 0, fmt: r1, pad: 9 }),
      sr5: spacer('right', 110, 20)
    }
  },
  plugins: [background, annotations]
});
</script>
</body>
</html>
